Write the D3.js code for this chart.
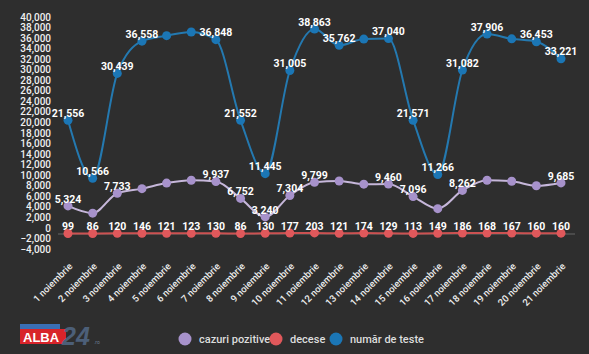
<!DOCTYPE html>
<html>
<head>
<meta charset="utf-8">
<script src="https://cdn.jsdelivr.net/npm/d3@7"></script>
<style>
  html, body { margin: 0; padding: 0; background: #2e2e2e; }
  svg { display: block; font-family: Roboto, "Noto Sans", sans-serif; }
</style>
</head>
<body>
<div id="chart"></div>
<script>
// data
const days = ["1 noiembrie","2 noiembrie","3 noiembrie","4 noiembrie","5 noiembrie","6 noiembrie","7 noiembrie",
  "8 noiembrie","9 noiembrie","10 noiembrie","11 noiembrie","12 noiembrie","13 noiembrie","14 noiembrie",
  "15 noiembrie","16 noiembrie","17 noiembrie","18 noiembrie","19 noiembrie","20 noiembrie","21 noiembrie"];

const cazuri = [5324, 3950, 7733, 8600, 9650, 10200, 9937, 6752, 3240, 7304, 9799, 10050, 9450, 9460,
  7096, 4800, 8262, 10200, 10000, 9150, 9685];
const decese = [99, 86, 120, 146, 121, 123, 130, 86, 130, 177, 203, 121, 174, 129, 113, 149, 186, 168, 167, 160, 160];
const teste = [21556, 10566, 30439, 36558, 37600, 38300, 36848, 21552, 11445, 31005, 38863, 35762, 36950, 37040,
  21571, 11266, 31082, 37906, 37000, 36453, 33221];

// which points carry a value label in the original
const cazuriLabeled = [1,0,1,0,0,0,1,1,1,1,1,0,0,1,1,0,1,0,0,0,1];
const testeLabeled  = [1,1,1,1,0,0,1,1,1,1,1,1,0,1,1,1,1,1,0,1,1];

const yTicks = d3.range(-4000, 40001, 2000);

const series = [
  { name: "număr de teste", values: teste, labeled: testeLabeled, dot: "#1b76b5", line: "#2479b0" },
  { name: "cazuri pozitive", values: cazuri, labeled: cazuriLabeled, dot: "#a792cb", line: "#c6b7da" },
  { name: "decese", values: decese, labeled: decese.map(() => 1), dot: "#e0585b", line: "#cc5252" }
];
const legendOrder = ["cazuri pozitive", "decese", "număr de teste"];

const W = 589, H = 354;
const svg = d3.select("#chart").append("svg").attr("width", W).attr("height", H);
svg.append("rect").attr("width", W).attr("height", H).attr("fill", "#2e2e2e");

const x = d3.scalePoint().domain(days).range([68, 561]);
const y = d3.scaleLinear().domain([-4000, 40000]).range([255.1, 23]);

// y labels
svg.append("g").selectAll("text")
  .data(yTicks)
  .join("text")
  .attr("x", 51)
  .attr("y", d => y(d) - 6)
  .attr("dy", "0.35em")
  .attr("text-anchor", "end")
  .attr("fill", "#f0f0f0")
  .attr("font-size", 10)
  .attr("font-weight", 500)
  .text(d => d3.format(",")(d));

// zero line
svg.append("line")
  .attr("x1", 58).attr("x2", 575)
  .attr("y1", y(0)).attr("y2", y(0))
  .attr("stroke", "#666").attr("stroke-width", 1);

// x labels
svg.append("g").selectAll("text")
  .data(days)
  .join("text")
  .attr("transform", d => `translate(${x(d) + 5},${267}) rotate(-45)`)
  .attr("text-anchor", "end")
  .attr("fill", "#eeeeee")
  .attr("font-size", 9.5)
  .attr("font-weight", 500)
  .text(d => d);

const line = d3.line()
  .x((d, i) => x(days[i]))
  .y(d => y(d))
  .curve(d3.curveMonotoneX);

series.forEach(s => {
  const g = svg.append("g");
  g.append("path")
    .attr("d", line(s.values))
    .attr("fill", "none")
    .attr("stroke", s.line)
    .attr("stroke-width", 2);
  g.selectAll("circle")
    .data(s.values)
    .join("circle")
    .attr("cx", (d, i) => x(days[i]))
    .attr("cy", d => y(d))
    .attr("r", 4.5)
    .attr("fill", s.dot);
});

series.forEach(s => {
  svg.append("g").selectAll("text")
    .data(s.values.map((v, i) => ({ v, i })).filter(d => s.labeled[d.i]))
    .join("text")
    .attr("x", d => x(days[d.i]))
    .attr("y", d => y(d.v) - 7)
    .attr("dy", "0.35em")
    .attr("text-anchor", "middle")
    .attr("fill", "#ffffff")
    .attr("font-size", 10.5)
    .attr("font-weight", 700)
    .text(d => d3.format(",")(d.v));
});

// legend
const legendX = [185, 276, 336];
const legend = svg.append("g").selectAll("g")
  .data(legendOrder)
  .join("g")
  .attr("transform", (d, i) => `translate(${legendX[i]},339)`);
legend.append("circle")
  .attr("r", 6.5)
  .attr("fill", d => series.find(s => s.name === d).dot);
legend.append("text")
  .attr("x", 14)
  .attr("dy", "0.35em")
  .attr("fill", "#dddddd")
  .attr("font-size", 11)
  .attr("font-weight", 500)
  .text(d => d);

// logo (rough)
const logo = svg.append("g").attr("transform", "translate(20,324)");
logo.append("rect").attr("x", 0).attr("y", 0).attr("width", 40).attr("height", 5).attr("fill", "#3a6fb5");
logo.append("rect").attr("x", 0).attr("y", 5).attr("width", 46).attr("height", 15).attr("fill", "#d8242a");
logo.append("text").attr("x", 3).attr("y", 18).attr("fill", "#fff").attr("font-size", 13)
  .attr("font-weight", 900).attr("font-family", "Liberation Sans, sans-serif").text("ALBA");
logo.append("text").attr("x", 42).attr("y", 21).attr("fill", "#4c5f78").attr("font-size", 25)
  .attr("font-style", "italic").attr("font-weight", 900).attr("font-family", "Liberation Sans, sans-serif").text("24");
logo.append("text").attr("x", 74).attr("y", 20).attr("fill", "#6a7a90").attr("font-size", 5).text(".ro");
</script>
</body>
</html>
